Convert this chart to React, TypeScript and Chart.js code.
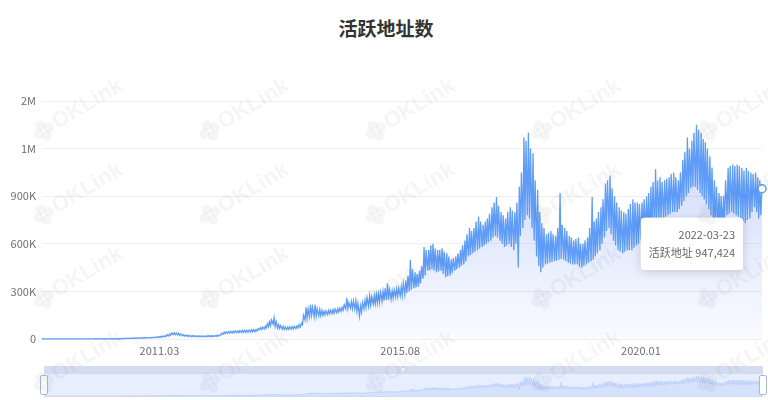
import React, { useEffect, useRef } from 'react';
import { Chart, registerables, Tooltip } from 'chart.js';

Chart.register(...registerables);

const TITLE = '活跃地址数';
const SERIES_NAME = '活跃地址';
const START_YEAR = 2009;
const LAST_DATE = '2022-03-23';

const yTickValues = [0, 300000, 600000, 900000, 1200000, 1500000];
const yTickLabels = ['0', '300K', '600K', '900K', '1M', '2M'];
const xTickLabels = ['2011.03', '2015.08', '2020.01'];

// Daily active addresses (thousands), read per month, Jan 2009 .. Mar 2022.
// Four readings per month: 1st-week low, 2nd-week high, 3rd-week low, 4th-week high.
const week1LowK = [
  0.1, 0.3, 0.4, 0.4, 0.5, 0.5, 0.5, 0.6, 0.6, 0.7, 0.7, 0.8,
  0.9, 1.0, 1.1, 1.2, 1.4, 1.5, 2.0, 3.0, 3.5, 4.0, 5.0, 5.5,
  6, 9, 10, 13, 20, 28, 25, 20, 17, 15, 14, 14,
  14, 15, 16, 18, 30, 36, 38, 40, 41, 42, 44, 46,
  58, 62, 78, 95, 70, 62, 60, 62, 66, 75, 120, 140,
  140, 145, 150, 155, 160, 165, 175, 190, 195, 190, 145, 190,
  205, 220, 230, 240, 245, 250, 265, 270, 280, 300, 320, 330,
  380, 430, 440, 420, 430, 390, 400, 430, 450, 470, 520, 540,
  560, 580, 600, 620, 650, 620, 580, 600, 560, 450, 700, 780,
  700, 520, 420, 470, 480, 490, 500, 500, 480, 470, 470, 450,
  470, 490, 520, 560, 640, 700, 620, 560, 540, 560, 560, 590,
  620, 680, 640, 700, 740, 760, 780, 800, 800, 840, 900, 950,
  960, 920, 880, 820, 720, 680, 700, 780, 800, 780, 760, 730,
  760, 830, 760,
];
const week2HighK = [
  0.4, 0.6, 0.7, 0.8, 0.9, 0.9, 1.0, 1.0, 1.1, 1.2, 1.3, 1.4,
  1.5, 1.7, 1.9, 2.2, 2.5, 3.0, 4.5, 5.5, 6.0, 7.5, 8.5, 9.5,
  10, 13, 16, 22, 32, 40, 36, 28, 24, 21, 20, 20,
  20, 21, 22, 26, 44, 46, 50, 52, 54, 55, 58, 60,
  72, 80, 110, 135, 90, 80, 75, 78, 82, 100, 200, 215,
  215, 185, 175, 180, 185, 190, 200, 260, 235, 240, 210, 245,
  270, 275, 285, 300, 350, 305, 315, 330, 370, 500, 420, 430,
  580, 560, 600, 560, 570, 540, 500, 520, 560, 620, 700, 700,
  770, 720, 760, 830, 895, 800, 760, 830, 800, 960, 1270, 1300,
  1170, 940, 730, 660, 680, 650, 920, 700, 650, 620, 640, 600,
  640, 895, 760, 830, 980, 1030, 900, 830, 800, 820, 880, 860,
  860, 900, 960, 1070, 1020, 1000, 1020, 1050, 1000, 1130, 1270, 1250,
  1350, 1300, 1240, 1150, 1000, 920, 900, 1080, 1100, 1100, 1080, 1080,
  1050, 1050, 1000,
];
const week3LowK = [
  0.2, 0.35, 0.4, 0.45, 0.5, 0.5, 0.55, 0.6, 0.65, 0.7, 0.75, 0.85,
  0.95, 1.05, 1.15, 1.3, 1.45, 1.8, 2.5, 3.2, 3.8, 4.5, 5.2, 5.8,
  8, 9.5, 11, 16, 24, 27, 22, 18, 16, 14.5, 14, 14,
  14.5, 15.5, 17, 24, 33, 37, 39, 40, 42, 43, 45, 50,
  60, 70, 85, 80, 66, 60, 61, 64, 70, 90, 130, 150,
  145, 148, 152, 158, 162, 170, 182, 192, 192, 175, 170, 200,
  215, 225, 235, 242, 248, 258, 268, 275, 290, 310, 325, 350,
  400, 435, 430, 425, 410, 395, 415, 440, 460, 490, 530, 550,
  570, 590, 610, 640, 640, 600, 590, 580, 600, 650, 750, 760,
  620, 460, 450, 475, 485, 495, 505, 490, 475, 470, 455, 460,
  480, 500, 540, 600, 680, 660, 590, 550, 550, 560, 575, 600,
  650, 660, 670, 720, 750, 770, 790, 800, 820, 870, 920, 960,
  940, 900, 850, 780, 700, 690, 740, 790, 790, 770, 740, 750,
  800, 800, 780,
];
const week4HighK = [
  0.5, 0.65, 0.75, 0.85, 0.9, 0.95, 1.0, 1.05, 1.15, 1.25, 1.35, 1.45,
  1.6, 1.8, 2.0, 2.3, 2.8, 3.8, 5.0, 5.8, 6.8, 8.0, 9.0, 9.8,
  12, 15, 19, 28, 38, 38, 32, 26, 22, 21, 20, 19,
  21, 21, 24, 38, 45, 48, 51, 53, 55, 57, 59, 66,
  75, 95, 120, 110, 85, 76, 77, 80, 90, 150, 190, 200,
  190, 180, 178, 182, 188, 195, 215, 230, 240, 225, 230, 260,
  265, 280, 295, 320, 310, 310, 320, 350, 400, 440, 410, 460,
  560, 590, 570, 560, 550, 520, 510, 540, 590, 660, 680, 740,
  740, 740, 790, 860, 840, 780, 800, 810, 860, 1050, 1250, 1200,
  1000, 800, 700, 670, 660, 700, 720, 680, 640, 630, 600, 620,
  700, 740, 800, 880, 1000, 950, 860, 810, 790, 850, 860, 850,
  880, 920, 990, 1000, 990, 1010, 1040, 1020, 1050, 1180, 1200, 1300,
  1320, 1260, 1200, 1080, 960, 900, 1000, 1090, 1090, 1090, 1060, 1060,
  1040, 1020, 947.424,
];

const LINE = '#5e9cf7';
const AXIS_TEXT = '#6e7079';
const FONT = "'Noto Sans CJK SC', 'Noto Sans', sans-serif";

function fracYear(y: number, m: number, d: number) {
  const a = Date.UTC(y, 0, 1);
  const b = Date.UTC(y + 1, 0, 1);
  return y + (Date.UTC(y, m, d) - a) / (b - a);
}
const pad2 = (n: number) => (n < 10 ? '0' + n : '' + n);

const dates: string[] = [];
const points: { x: number; y: number }[] = [];
const weekly = [week1LowK, week2HighK, week3LowK, week4HighK];
const weekDays = [1, 8, 15, 22];
week1LowK.forEach((_v, i) => {
  const y = START_YEAR + Math.floor(i / 12);
  const m = i % 12;
  const isLastMonth = i === week1LowK.length - 1;
  weekly.forEach((arr, w) => {
    let d = weekDays[w];
    if (i === 0 && w === 0) d = 3;
    if (isLastMonth && w === 3) d = Number(LAST_DATE.slice(8));
    dates.push(`${y}-${pad2(m + 1)}-${pad2(d)}`);
    points.push({ x: fracYear(y, m, d), y: arr[i] * 1000 });
  });
});
const xMin = points[0].x;
const xMax = points[points.length - 1].x;
const xTickValues = xTickLabels.map((s) => {
  const [yy, mm] = s.split('.').map(Number);
  return fracYear(yy, mm - 1, 1);
});

(Tooltip.positioners as any).lowerLeft = function (items: any[]) {
  if (!items.length) return false;
  const el = items[0].element;
  return { x: el.x - 19 - 4, y: el.y + 29 };
};

const shadowPlugin = {
  id: 'ttShadow',
  beforeTooltipDraw(chart: any, args: any) {
    const t = args.tooltip;
    if (!t || !t.opacity) return;
    const ctx = chart.ctx;
    ctx.save();
    ctx.shadowColor = 'rgba(0,0,0,0.16)';
    ctx.shadowBlur = 10;
    ctx.shadowOffsetY = 2;
    ctx.fillStyle = '#fff';
    ctx.beginPath();
    (ctx as any).roundRect(t.x, t.y, t.width, t.height, 4);
    ctx.fill();
    ctx.restore();
  },
};

function drawWatermarks(canvas: HTMLCanvasElement) {
  const ctx = canvas.getContext('2d');
  if (!ctx) return;
  ctx.clearRect(0, 0, canvas.width, canvas.height);
  const cols = [78, 244, 410, 576, 742];
  const rows = [110, 194, 278, 362];
  ctx.fillStyle = 'rgba(60,60,70,0.05)';
  for (const cy of rows) {
    for (const cx of cols) {
      ctx.save();
      ctx.translate(cx, cy);
      ctx.rotate((-31 * Math.PI) / 180);
      const lx = -40;
      [[0, -6], [-6, 0], [6, 0], [0, 6]].forEach(([dx, dy]) => {
        ctx.beginPath();
        ctx.arc(lx + dx, dy, 5, 0, Math.PI * 2);
        ctx.fill();
      });
      ctx.font = "bold 22px 'Liberation Sans', 'DejaVu Sans', sans-serif";
      ctx.textBaseline = 'middle';
      ctx.textAlign = 'left';
      ctx.fillText('OKLink', -28, 0);
      ctx.restore();
    }
  }
}

export default function App() {
  const mainRef = useRef<HTMLCanvasElement>(null);
  const miniRef = useRef<HTMLCanvasElement>(null);
  const wmRef = useRef<HTMLCanvasElement>(null);

  useEffect(() => {
    if (!mainRef.current || !miniRef.current) return;
    Chart.defaults.font.family = FONT;

    const main = new Chart(mainRef.current, {
      type: 'line',
      data: {
        datasets: [
          {
            label: SERIES_NAME,
            data: points,
            borderColor: LINE,
            borderWidth: 1.3,
            pointRadius: 0,
            pointHoverRadius: 4,
            pointHoverBorderWidth: 1.5,
            pointHoverBackgroundColor: '#fff',
            pointHoverBorderColor: LINE,
            tension: 0,
            fill: 'origin',
            clip: 10,
            backgroundColor: (c: any) => {
              const area = c.chart.chartArea;
              if (!area) return 'rgba(94,140,240,0.2)';
              const g = c.chart.ctx.createLinearGradient(0, area.top, 0, area.bottom);
              g.addColorStop(0, 'rgba(90,130,240,0.36)');
              g.addColorStop(1, 'rgba(90,130,240,0.03)');
              return g;
            },
          } as any,
        ],
      },
      options: {
        animation: false,
        responsive: false,
        devicePixelRatio: 1,
        events: [],
        layout: { padding: { top: 101, right: 6, left: 0, bottom: 0 } },
        scales: {
          x: {
            type: 'linear',
            min: xMin,
            max: xMax,
            afterFit: (s: any) => {
              s.height = 21;
            },
            afterBuildTicks: (s: any) => {
              s.ticks = xTickValues.map((v) => ({ value: v }));
            },
            ticks: {
              autoSkip: false,
              maxRotation: 0,
              padding: 5,
              color: AXIS_TEXT,
              font: { size: 11, family: FONT },
              callback: (_v: any, i: number) => xTickLabels[i],
            },
            grid: { display: false, drawTicks: false },
            border: { display: false },
          },
          y: {
            min: 0,
            max: yTickValues[yTickValues.length - 1],
            afterFit: (s: any) => {
              s.width = 42;
            },
            afterBuildTicks: (s: any) => {
              s.ticks = yTickValues.map((v) => ({ value: v }));
            },
            ticks: {
              padding: 6,
              color: AXIS_TEXT,
              font: { size: 11, family: FONT },
              callback: (_v: any, i: number) => yTickLabels[i],
            },
            grid: { color: '#edf0f5', drawTicks: false, lineWidth: 1 },
            border: { display: false },
          },
        },
        plugins: {
          legend: { display: false },
          title: { display: false },
          tooltip: {
            enabled: true,
            position: 'lowerLeft' as any,
            xAlign: 'right',
            yAlign: 'top',
            caretSize: 0,
            caretPadding: 0,
            cornerRadius: 4,
            backgroundColor: '#ffffff',
            borderWidth: 0,
            displayColors: false,
            titleColor: '#666',
            bodyColor: '#666',
            titleFont: { size: 11, weight: 'normal', family: FONT },
            bodyFont: { size: 11, family: FONT },
            titleAlign: 'right',
            bodyAlign: 'right',
            titleMarginBottom: 4,
            padding: { top: 11, bottom: 11, left: 8, right: 8 },
            callbacks: {
              title: (items: any[]) => dates[items[0].dataIndex],
              label: (item: any) =>
                SERIES_NAME + ' ' + Math.round(item.parsed.y).toLocaleString('en-US'),
            },
          },
        },
      } as any,
      plugins: [shadowPlugin],
    });

    const last = points.length - 1;
    main.setActiveElements([{ datasetIndex: 0, index: last }]);
    const el: any = main.getDatasetMeta(0).data[last];
    main.tooltip!.setActiveElements([{ datasetIndex: 0, index: last }], { x: el.x, y: el.y });
    main.update();

    const mini = new Chart(miniRef.current, {
      type: 'line',
      data: {
        datasets: [
          {
            data: points,
            borderColor: '#a9c0f2',
            borderWidth: 0.5,
            pointRadius: 0,
            tension: 0,
            fill: 'origin',
            backgroundColor: 'rgba(143,176,247,0.2)',
          } as any,
        ],
      },
      options: {
        animation: false,
        responsive: false,
        devicePixelRatio: 1,
        events: [],
        layout: { padding: 0 },
        scales: {
          x: { type: 'linear', min: xMin, max: xMax, display: false },
          y: { min: 0, max: 1500000, display: false },
        },
        plugins: { legend: { display: false }, tooltip: { enabled: false } },
      } as any,
    });

    if (wmRef.current) drawWatermarks(wmRef.current);

    return () => {
      main.destroy();
      mini.destroy();
    };
  }, []);

  const sliderLeft = 44;
  const sliderWidth = 719;

  return (
    <div
      style={{
        position: 'fixed',
        left: 0,
        top: 0,
        width: 768,
        height: 400,
        background: '#fff',
        overflow: 'hidden',
        fontFamily: FONT,
      }}
    >
      <div
        style={{
          position: 'absolute',
          left: 2,
          top: 17,
          width: 768,
          height: 22,
          lineHeight: '22px',
          textAlign: 'center',
          fontSize: 19,
          fontWeight: 700,
          color: '#333',
        }}
      >
        {TITLE}
      </div>
      <canvas
        ref={mainRef}
        width={768}
        height={360}
        style={{ position: 'absolute', left: 0, top: 0, width: 768, height: 360 }}
      />
      <div style={{ position: 'absolute', left: sliderLeft, top: 366, width: sliderWidth, height: 31 }}>
        <div
          style={{
            position: 'absolute',
            left: 0,
            top: 0,
            width: sliderWidth,
            height: 7,
            background: 'rgba(205,215,236,0.85)',
          }}
        >
          <div
            style={{
              position: 'absolute',
              left: sliderWidth / 2 - 1.5,
              top: 2,
              width: 3,
              height: 3,
              borderRadius: 2,
              background: '#fff',
            }}
          />
        </div>
        <div
          style={{
            position: 'absolute',
            left: 0,
            top: 7,
            width: sliderWidth,
            height: 24,
            boxSizing: 'border-box',
            border: '1px solid #d2dbee',
            background: '#fff',
            overflow: 'hidden',
          }}
        >
          <canvas
            ref={miniRef}
            width={sliderWidth - 2}
            height={22}
            style={{ position: 'absolute', left: 0, top: 0, width: sliderWidth - 2, height: 22 }}
          />
          <div
            style={{
              position: 'absolute',
              left: 0,
              top: 0,
              right: 0,
              bottom: 0,
              background: 'rgba(135,175,255,0.2)',
            }}
          />
        </div>
        {[0, sliderWidth].map((hx) => (
          <div
            key={hx}
            style={{
              position: 'absolute',
              left: hx - 4,
              top: 9,
              width: 8,
              height: 20,
              boxSizing: 'border-box',
              border: '1px solid #acb8d1',
              borderRadius: 2,
              background: '#fff',
            }}
          />
        ))}
      </div>
      <canvas
        ref={wmRef}
        width={768}
        height={400}
        style={{ position: 'absolute', left: 0, top: 0, width: 768, height: 400, pointerEvents: 'none' }}
      />
    </div>
  );
}
